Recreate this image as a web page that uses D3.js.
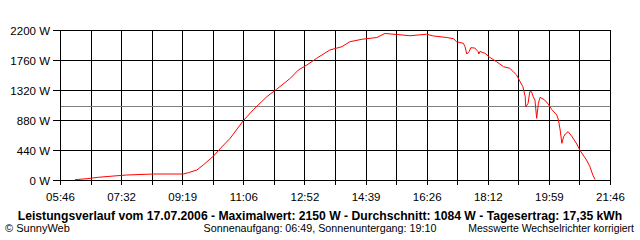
<!DOCTYPE html>
<html>
<head>
<meta charset="utf-8">
<script src="https://cdn.jsdelivr.net/npm/d3@7"></script>
<style>
  html, body { margin: 0; padding: 0; background: #fff; }
  svg { display: block; }
  text { font-family: "Liberation Sans", Arial, sans-serif; fill: #000; }
</style>
</head>
<body>
<svg id="chart" width="640" height="240"></svg>
<script>
// ---- data ----
const times = ["06:12","06:33","06:53","07:13","07:42","08:29","09:21","09:30","09:45","09:56",
  "10:14","10:25","10:43","11:06","11:23","11:47","12:04","12:28","12:42","12:57",
  "13:14","13:37","13:58","14:12","14:33","14:59","15:13","15:34","15:57","16:26",
  "16:38","17:01","17:13","17:18","17:30","17:33","17:36","17:40","17:43","17:50",
  "17:56","17:57","17:59","18:08","18:16","18:28","18:40","18:51","19:03","19:09",
  "19:14","19:18","19:19","19:23","19:26","19:29","19:32","19:35","19:38","19:41",
  "19:44","19:52","19:58","20:04","20:13","20:16","20:19","20:22","20:25","20:28",
  "20:33","20:39","20:48","20:54","20:59","21:05","21:11","21:16","21:20"];
const watts = [5,19,40,54,73,88,88,107,147,220,
  352,455,612,870,1027,1222,1330,1492,1613,1687,
  1785,1907,1955,2028,2064,2090,2149,2134,2116,2138,
  2112,2090,2072,2028,2005,1955,1848,1882,1940,1936,
  1882,1848,1885,1858,1800,1735,1662,1638,1540,1442,
  1368,1222,1071,1125,1295,1295,1222,1173,905,1125,
  1213,1173,1115,1037,953,880,733,538,635,675,
  708,645,528,430,367,293,195,73,7];
const xTickLabels = ["05:46","07:32","09:19","11:06","12:52","14:39","16:26","18:12","19:59","21:46"];
const yTickValues = [0,440,880,1320,1760,2200];
const average = 1084;
const title = "Leistungsverlauf vom 17.07.2006 - Maximalwert: 2150 W - Durchschnitt: 1084 W - Tagesertrag: 17,35 kWh";
const footLeft = "\u00A9 SunnyWeb";
const footMid = "Sonnenaufgang: 06:49, Sonnenuntergang: 19:10";
const footRight = "Messwerte Wechselrichter korrigiert";

// ---- helpers ----
const toMin = s => { const [h, m] = s.split(":").map(Number); return h * 60 + m; };

const svg = d3.select("#chart");
const L = 60, R = 610, T = 30, B = 180;
const t0 = toMin(xTickLabels[0]), t1 = toMin(xTickLabels[xTickLabels.length - 1]);
const x = d3.scaleLinear().domain([t0, t1]).range([L, R]);
const y = d3.scaleLinear().domain([0, 2200]).range([B, T]);

// grid ticks: each labelled interval split in two
const gridTicks = d3.range(0, 19).map(i => t0 + (t1 - t0) * i / 18);
const labelFor = v => {
  const idx = gridTicks.indexOf(v);
  return idx % 2 === 0 ? xTickLabels[idx / 2] : "";
};

const g = svg.append("g").attr("shape-rendering", "crispEdges");

// horizontal grid
g.selectAll("line.h").data(yTickValues).join("line")
  .attr("x1", L - 7).attr("x2", R)
  .attr("y1", d => Math.round(y(d)) + 0.5).attr("y2", d => Math.round(y(d)) + 0.5)
  .attr("stroke", "#000");

// vertical grid
g.selectAll("line.v").data(gridTicks).join("line")
  .attr("x1", d => Math.round(x(d)) + 0.5).attr("x2", d => Math.round(x(d)) + 0.5)
  .attr("y1", T).attr("y2", B + 5)
  .attr("stroke", "#000");

// average line
g.append("line")
  .attr("x1", L + 1).attr("x2", R)
  .attr("y1", Math.round(y(average)) + 0.5).attr("y2", Math.round(y(average)) + 0.5)
  .attr("stroke", "#808080");

// x axis labels
svg.append("g").selectAll("text").data(gridTicks.filter((d, i) => i % 2 === 0)).join("text")
  .attr("x", d => x(d) + 0.5).attr("y", 201)
  .attr("text-anchor", "middle").attr("font-size", 11.5)
  .text(d => labelFor(d));

// y axis labels
svg.append("g").selectAll("text").data(yTickValues).join("text")
  .attr("x", 50).attr("y", d => y(d) + 4.5)
  .attr("text-anchor", "end").attr("font-size", 11.5)
  .text(d => d + " W");

// data line
const pts = times.map((t, i) => [toMin(t), watts[i]]);
svg.append("path").datum(pts)
  .attr("fill", "none").attr("stroke", "#ff0000").attr("stroke-width", 1)
  .attr("d", d3.line().x(d => x(d[0])).y(d => y(d[1])));

// title
const tt = svg.append("text").attr("x", 320).attr("y", 220)
  .attr("text-anchor", "middle").attr("font-weight", "bold").attr("font-size", 12)
  .text(title);
const w = tt.node().getComputedTextLength();
tt.attr("font-size", 12 * 605 / w);

// footer
const fitText = (sel, target) => {
  const len = sel.node().getComputedTextLength();
  sel.attr("font-size", 11 * target / len);
};
const f1 = svg.append("text").attr("x", 5).attr("y", 232).attr("font-size", 11).text(footLeft);
fitText(f1, 65);
const f2 = svg.append("text").attr("x", 320).attr("y", 232).attr("text-anchor", "middle").attr("font-size", 11).text(footMid);
fitText(f2, 233);
const f3 = svg.append("text").attr("x", 634).attr("y", 232).attr("text-anchor", "end").attr("font-size", 11).text(footRight);
fitText(f3, 166);
</script>
</body>
</html>
